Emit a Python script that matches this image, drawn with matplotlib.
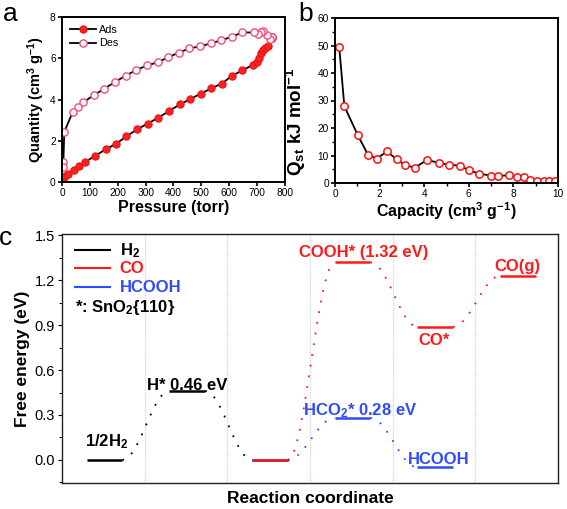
import numpy as np
import matplotlib
matplotlib.use("Agg")
import matplotlib.pyplot as plt

plt.rcParams['font.family'] = ['Liberation Sans', 'DejaVu Sans']
plt.rcParams['mathtext.default'] = 'regular'

# ---------------- data ----------------
# panel a: isotherm
ads_p = [1, 5, 10, 20, 42, 61, 81, 120, 157, 195, 231, 269, 307, 346, 384, 423, 459, 497,
         536, 573, 610, 647, 686, 700, 708, 714, 722, 730, 740, 752, 755]
ads_q = [0.05, 0.15, 0.27, 0.38, 0.57, 0.78, 0.95, 1.28, 1.58, 1.86, 2.21, 2.55, 2.83, 3.12,
         3.44, 3.76, 4.01, 4.28, 4.54, 4.77, 5.15, 5.41, 5.69, 5.82, 6.03, 6.25, 6.38, 6.49,
         6.58, 6.98, 7.03]
des_p = [755, 745, 735, 722, 714, 702, 688, 647, 610, 572, 533, 494, 457, 419, 381, 343,
         305, 265, 228, 190, 152, 115, 77, 57, 38, 8, 5, 3]
des_q = [7.02, 6.95, 7.12, 7.30, 7.25, 7.18, 7.25, 7.25, 7.05, 6.87, 6.72, 6.57, 6.48, 6.27,
         6.05, 5.80, 5.65, 5.42, 5.15, 4.85, 4.52, 4.22, 3.87, 3.62, 3.38, 2.42, 0.97, 0.72]

# panel b: isosteric heat
cap = [0.19, 0.42, 1.01, 1.49, 1.87, 2.34, 2.76, 3.16, 3.58, 4.13, 4.66, 5.12, 5.60, 6.01,
       6.46, 6.99, 7.31, 7.79, 8.16, 8.48, 8.76, 9.06, 9.36, 9.60, 9.85]
qst = [49.4, 27.9, 17.6, 10.1, 8.9, 11.5, 8.6, 6.4, 5.6, 8.4, 7.3, 6.6, 6.3, 4.6,
       3.4, 2.7, 2.6, 2.8, 2.3, 2.3, 1.1, 0.8, 0.8, 0.8, 0.8]

# panel c: free energy diagram
h2_levels = [0.0, 0.46, 0.0]
h2_cols = [0, 1, 2]
co_levels = [0.0, 1.32, 0.89, 1.23]
co_cols = [2, 3, 4, 5]
hcooh_levels = [0.0, 0.28, -0.05]
hcooh_cols = [2, 3, 4]
legend_names = ['H$_2$', 'CO', 'HCOOH']

red = '#ff1a1a'
blue = '#2e4bff'

fig = plt.figure(figsize=(5.67, 5.09), dpi=100)

# ---------------- panel a ----------------
axa = fig.add_axes([62/567, 1-182/509, 223/567, 165/509])
axa.plot(ads_p, ads_q, '-', color='black', lw=1.3, marker='o', ms=5.2,
         mfc='#ff2020', mec='#ee1111', mew=0.8, label='Ads')
axa.plot(des_p, des_q, '-', color='black', lw=1.3, marker='o', ms=5.2,
         mfc='white', mec='#f0507a', mew=1.0, label='Des')
axa.set_xlim(0, 800)
axa.set_ylim(0, 8)
axa.set_xticks(range(0, 801, 100))
axa.set_yticks(range(0, 9, 2))
axa.tick_params(labelsize=7.3, direction='out', length=3, width=1.2, pad=1.5)
for s in axa.spines.values():
    s.set_linewidth(1.4)
axa.set_xlabel('Pressure (torr)', fontsize=11.5, fontweight='bold', labelpad=1)
axa.set_ylabel('Quantity (cm$^3$ g$^{-1}$)', fontsize=10.5, fontweight='bold', labelpad=2)
axa.legend(loc='upper left', frameon=False, fontsize=7.8, handlelength=2.4,
           handletextpad=0.3, labelspacing=0.35, borderaxespad=0.3)

# ---------------- panel b ----------------
axb = fig.add_axes([335/567, 1-183/509, 223/567, 165/509])
axb.plot(cap, qst, '-', color='black', lw=1.3, marker='o', ms=5.3,
         mfc='white', mec='#ff1010', mew=1.1)
axb.set_xlim(0, 10)
axb.set_ylim(0, 60)
axb.set_xticks(range(0, 11, 2))
axb.set_yticks(range(0, 61, 10))
axb.set_xticks(range(1, 10, 2), minor=True)
axb.set_yticks(range(5, 60, 10), minor=True)
axb.tick_params(labelsize=7.3, direction='out', length=3, width=1.2, pad=1.5)
axb.tick_params(which='minor', direction='out', length=2, width=1.0)
for s in axb.spines.values():
    s.set_linewidth(1.4)
axb.set_xlabel('Capacity (cm$^3$ g$^{-1}$)', fontsize=11.5, fontweight='bold', labelpad=1)
axb.set_ylabel('Q$_{st}$ kJ mol$^{-1}$', fontsize=13.5, fontweight='bold', labelpad=2)
axb.yaxis.set_label_coords(-0.12, 0.37)

# ---------------- panel c ----------------
axc = fig.add_axes([62/567, 1-483/509, 496/567, 249/509])
axc.set_xlim(0, 6)
axc.set_ylim(-0.155, 1.51)
for xv in range(1, 6):
    axc.axvline(xv, color='#c9d3dc', lw=0.9, ls=(0, (1, 1)), zorder=0)

L0, L1 = 0.3, 0.73  # level extent within a column


def connectors(cols, levels, color):
    for i in range(len(cols) - 1):
        x0 = cols[i] + L1
        x1 = cols[i + 1] + L0
        t = np.linspace(0, 1, 60)
        xs = x0 + (x1 - x0) * t
        ys = levels[i] + (levels[i + 1] - levels[i]) * (1 - np.cos(np.pi * t)) / 2
        axc.plot(xs, ys, color=color, lw=1.3, ls=(0, (1, 5)), zorder=2)


def levels_draw(cols, levels, color):
    for c, v in zip(cols, levels):
        axc.plot([c + L0, c + L1], [v, v], color=color, lw=1.8, solid_capstyle='butt', zorder=3)


connectors(h2_cols, h2_levels, 'black')
connectors(co_cols, co_levels, red)
connectors(hcooh_cols, hcooh_levels, blue)
levels_draw(h2_cols, h2_levels, 'black')
levels_draw(hcooh_cols, hcooh_levels, blue)
levels_draw(co_cols, co_levels, red)

tk = dict(fontsize=12, fontweight='bold', va='center', ha='left')
axc.text(0.28, 0.12, '1/2H$_2$', color='black', **tk)
axc.text(1.03, 0.50, 'H* 0.46 eV', color='black', **tk)
axc.text(2.87, 1.385, 'COOH* (1.32 eV)', color=red, **tk)
axc.text(4.31, 0.80, 'CO*', color=red, **tk)
axc.text(5.23, 1.29, 'CO(g)', color=red, **tk)
axc.text(2.91, 0.33, 'HCO$_2$* 0.28 eV', color=blue, **tk)
axc.text(4.19, 0.0, 'HCOOH', color=blue, **tk)

# legend (drawn manually)
leg_y = [1.40, 1.28, 1.155]
leg_colors = ['black', red, blue]
for yy, cc, nm in zip(leg_y, leg_colors, legend_names):
    axc.plot([0.16, 0.58], [yy, yy], color=cc, lw=1.5)
    axc.text(0.70, yy, nm, color=cc, **tk)
axc.text(0.16, 1.02, '*: SnO$_2${110}', color='black', **tk)

axc.set_yticks([0.0, 0.3, 0.6, 0.9, 1.2, 1.5])
axc.set_yticklabels(['0.0', '0.3', '0.6', '0.9', '1.2', '1.5'])
axc.set_yticks(np.arange(-0.15, 1.5, 0.3), minor=True)
axc.set_xticks([])
axc.tick_params(axis='y', labelsize=10.5, direction='out', length=3, width=0.8, pad=2)
axc.tick_params(axis='y', which='minor', direction='out', length=2, width=0.7)
for s in axc.spines.values():
    s.set_linewidth(1.0)
    s.set_color('#222222')
axc.set_ylabel('Free energy (eV)', fontsize=12.5, fontweight='bold', labelpad=3)
axc.set_xlabel('Reaction coordinate', fontsize=12.5, fontweight='bold', labelpad=6)

# panel letters
fig.text(3/567, 1-2/509, 'a', fontsize=19, va='top', ha='left')
fig.text(298/567, 1-2/509, 'b', fontsize=19, va='top', ha='left')
fig.text(-1/567, 1-226/509, 'c', fontsize=19, va='top', ha='left')

fig.savefig('out.png', dpi=100)
